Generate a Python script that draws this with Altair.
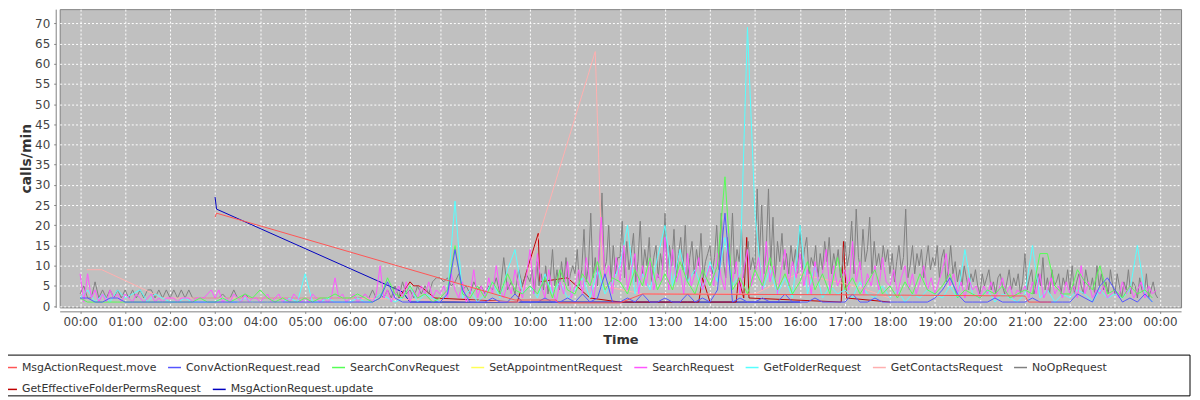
import altair as alt
import pandas as pd

SERIES = ["MsgActionRequest.move", "ConvActionRequest.read", "SearchConvRequest",
          "SetAppointmentRequest", "SearchRequest", "GetFolderRequest",
          "GetContactsRequest", "NoOpRequest", "GetEffectiveFolderPermsRequest",
          "MsgActionRequest.update"]
COLORS = ["#ff5555", "#5555ff", "#55ff55", "#ffff55", "#ff55ff", "#55ffff",
          "#ffafaf", "#808080", "#c00000", "#0000c0"]

# ---- dense series: regular sampling (minutes per step) ----
# NoOpRequest 00:00-09:55, every 5 minutes
NOOP_A_START = "00:00"
NOOP_A_STEP = 5
NOOP_A = [
    3, 5, 2, 2, 6, 2, 4, 2, 4, 2, 4, 2,
    4, 2, 4, 2, 4, 2, 4, 4, 2, 4, 2, 4,
    2, 4, 2, 4, 2, 4, 2, 2, 2, 2, 2, 2,
    2, 2, 3, 2, 2, 4, 2, 2, 3, 2, 2, 2,
    2, 2, 2, 2, 2, 2, 2, 2, 2, 2, 2, 2,
    2, 2, 2, 2, 2, 2, 2, 2, 2, 2, 2, 2,
    2, 2, 2, 2, 3, 2, 4, 2, 3, 2, 4, 2,
    5, 2, 6, 3, 4, 2, 5, 3, 5, 3, 6, 7,
    7, 6, 7, 5, 6, 8, 4, 5, 3, 6, 4, 5,
    3, 5, 4, 7, 3, 12, 4, 6, 3, 9, 5, 8,
]
# NoOpRequest 10:00-23:57, every 3 minutes
NOOP_B_START = "10:00"
NOOP_B_STEP = 3
NOOP_B = [
    6, 9, 3, 11, 5, 8, 4, 10, 3, 7, 14, 5, 9, 4, 11, 6, 12, 5, 8, 10,
    8, 14, 5, 9, 19, 6, 10, 23, 7, 12, 5, 16, 28, 9, 11, 20, 6, 15, 8, 12,
    12, 21, 7, 16, 9, 13, 18, 6, 11, 21, 8, 14, 10, 17, 6, 12, 15, 7, 13, 9,
    23, 8, 15, 10, 19, 7, 13, 17, 9, 20, 6, 12, 16, 8, 14, 10, 18, 7, 11, 13,
    15, 8, 12, 20, 9, 23, 11, 7, 17, 10, 23, 8, 14, 11, 19, 7, 13, 16, 9, 12,
    9, 29, 12, 25, 8, 14, 29, 10, 22, 7, 16, 11, 18, 9, 13, 8, 15, 10, 14, 8,
    20, 9, 14, 17, 8, 12, 10, 15, 7, 13, 9, 16, 11, 17, 8, 13, 10, 14, 7, 11,
    16, 10, 13, 21, 8, 24, 12, 9, 19, 11, 14, 22, 8, 16, 10, 13, 9, 15, 11, 14,
    8, 13, 6, 11, 15, 9, 12, 24, 7, 10, 15, 8, 13, 10, 14, 7, 11, 15, 9, 12,
    10, 15, 7, 12, 14, 6, 9, 15, 8, 11, 6, 9, 5, 10, 7, 4, 8, 6, 9, 5,
    3, 8, 5, 7, 9, 4, 6, 3, 7, 8, 5, 3, 6, 9, 4, 7, 5, 8, 3, 6,
    13, 4, 7, 9, 3, 6, 8, 5, 12, 4, 7, 3, 9, 5, 6, 8, 3, 7, 5, 9,
    4, 10, 3, 6, 8, 5, 3, 9, 6, 4, 7, 3, 10, 5, 8, 4, 6, 3, 9, 5,
    3, 8, 5, 2, 6, 4, 9, 3, 6, 5, 2, 7, 4, 3, 8, 2, 4, 6, 3, 2,
]

SEARCH_START = "00:00"
SEARCH_STEP = 5
SEARCH = [
    8, 1, 8, 2, 4, 1, 3, 1, 4, 2, 3, 1,
    3, 2, 1, 3, 2, 1, 2, 3, 1, 2, 1, 2,
    2, 2, 1, 2, 2, 2, 1, 2, 2, 2, 3, 4,
    2, 4, 1, 2, 1, 3, 2, 1, 3, 1, 2, 2,
    1, 2, 3, 1, 2, 3, 1, 2, 1, 3, 2, 1,
    2, 1, 3, 2, 1, 2, 1, 2, 7, 2, 3, 1,
    2, 3, 1, 2, 3, 2, 1, 3, 10, 2, 4, 1,
    3, 5, 2, 6, 1, 4, 2, 5, 3, 6, 2, 4,
    3, 5, 2, 8, 4, 2, 6, 1, 3, 9, 2, 5,
    2, 7, 3, 10, 4, 2, 6, 3, 9, 5, 2, 7,
    14, 3, 13, 5, 2, 9, 4, 1, 6, 3, 11, 2,
    5, 9, 3, 12, 6, 2, 8, 22, 7, 10, 3, 12,
    6, 15, 4, 9, 13, 3, 10, 5, 12, 4, 8, 6,
    17, 4, 14, 6, 9, 3, 13, 5, 8, 12, 4, 7,
    10, 5, 13, 7, 4, 18, 6, 11, 3, 9, 14, 5,
    8, 12, 4, 16, 6, 10, 3, 9, 14, 5, 11, 7,
    13, 5, 9, 3, 11, 6, 8, 14, 4, 10, 5, 7,
    9, 4, 16, 6, 11, 3, 8, 5, 10, 4, 12, 6,
    5, 9, 3, 7, 10, 4, 8, 3, 6, 10, 4, 7,
    3, 6, 9, 13, 5, 8, 3, 6, 2, 7, 4, 5,
    2, 5, 3, 6, 2, 4, 7, 3, 5, 2, 4, 3,
    5, 2, 6, 3, 8, 2, 4, 7, 3, 5, 2, 6,
    3, 5, 2, 10, 3, 6, 2, 4, 3, 5, 2, 3,
    4, 2, 6, 3, 5, 2, 4, 6, 2, 5, 3, 4,
]

FOLDER_START = "00:00"
FOLDER_STEP = 10
FOLDER = [
    2, 4, 1, 3, 1, 4,
    2, 3, 4, 1, 3, 2,
    1, 1, 2, 1, 1, 1,
    1, 2, 1, 1, 2, 1,
    1, 1, 1, 1, 2, 1,
    8, 1, 1, 2, 1, 1,
    1, 2, 1, 1, 3, 2,
    1, 2, 5, 1, 3, 2,
    1, 3, 26, 2, 4, 1,
    3, 6, 2, 9, 14, 3,
    5, 2, 8, 3, 6, 2,
    4, 7, 2, 9, 3, 6,
    10, 20, 3, 8, 4, 12,
    20, 5, 14, 6, 9, 4,
    11, 6, 17, 5, 8, 69,
    23, 4, 9, 3, 7, 2,
    20, 3, 10, 2, 5, 3,
    4, 2, 6, 3, 2, 5,
    2, 4, 1, 3, 2, 4,
    3, 2, 5, 2, 14, 3,
    2, 4, 1, 3, 2, 1,
    3, 15, 2, 4, 1, 3,
    2, 4, 3, 1, 4, 2,
    3, 2, 4, 15, 3, 1,
]

SEARCHCONV_START = "00:00"
SEARCHCONV_STEP = 10
SEARCHCONV = [
    2, 1, 1, 1, 1, 1,
    1, 1, 1, 1, 1, 1,
    1, 1, 1, 1, 2, 1,
    1, 2, 1, 2, 3, 2,
    4, 2, 1, 2, 1, 1,
    2, 1, 2, 2, 3, 2,
    2, 3, 2, 1, 2, 7,
    3, 2, 5, 2, 3, 1,
    2, 4, 15, 3, 2, 5,
    2, 6, 3, 8, 4, 3,
    5, 3, 7, 2, 9, 4,
    3, 8, 5, 11, 4, 7,
    6, 3, 9, 5, 12, 4,
    8, 4, 11, 6, 3, 9,
    5, 10, 32, 4, 7, 3,
    9, 5, 12, 4, 8, 3,
    6, 11, 4, 8, 3, 12,
    4, 7, 3, 6, 9, 3,
    5, 2, 6, 3, 8, 4,
    3, 5, 8, 2, 4, 3,
    2, 4, 3, 5, 2, 3,
    4, 3, 13, 13, 5, 3,
    3, 9, 6, 4, 10, 3,
    4, 2, 5, 3, 4, 2,
]

CONVREAD_START = "00:00"
CONVREAD_STEP = 10
CONVREAD = [
    2, 2, 1, 1, 2, 2,
    1, 1, 1, 1, 1, 1,
    1, 1, 1, 1, 1, 1,
    1, 1, 1, 1, 1, 1,
    1, 1, 1, 1, 1, 1,
    1, 1, 1, 1, 1, 1,
    1, 1, 1, 1, 2, 6,
    2, 1, 1, 1, 1, 1,
    1, 3, 14, 4, 1, 1,
    1, 2, 1, 1, 3, 1,
    1, 1, 2, 1, 1, 2,
    1, 3, 1, 2, 8, 1,
    1, 2, 1, 3, 1, 1,
    2, 1, 1, 3, 1, 2,
    1, 4, 23, 1, 2, 1,
    1, 2, 1, 1, 3, 1,
    1, 1, 2, 1, 1, 1,
    1, 3, 1, 1, 2, 1,
    1, 1, 1, 1, 1, 1,
    2, 4, 7, 3, 1, 1,
    1, 1, 2, 1, 1, 1,
    1, 2, 1, 1, 1, 1,
    1, 3, 2, 1, 5, 7,
    4, 1, 2, 1, 3, 1,
]

# ---- sparse series: explicit timestamps ----
MOVE_T = ["03:00", "03:02", "09:40", "10:35", "10:38", "12:00", "12:30", "17:00", "21:00", "21:05", "21:35"]
MOVE_V = [22, 23, 1.5, 1.5, 0.8, 0.8, 3, 2.8, 2.5, 1, 1]

UPDATE_T = ["03:00", "03:02", "07:10", "07:20", "09:00", "10:40", "12:00", "13:30", "14:50", "16:00"]
UPDATE_V = [27, 24, 3.5, 1, 1, 1, 1, 1, 1, 1]

CONTACTS_T = ["00:09", "00:29", "01:50", "03:00", "06:00", "09:45", "11:27", "11:37", "12:30",
              "15:00", "15:38", "15:58", "17:14", "17:44", "18:00"]
CONTACTS_V = [9, 9, 2, 2, 2, 1, 63, 5, 3, 3, 6.5, 8, 5, 3, 2]

PERMS_T = ["07:05", "07:20", "07:25", "07:32", "07:40", "07:53", "09:43", "10:11", "10:13", "10:50",
           "11:20", "12:00", "13:45", "13:50", "14:00", "14:35", "14:38", "14:45", "14:49", "14:52",
           "16:55", "16:58", "17:02", "18:00"]
PERMS_V = [2, 6, 5, 5, 4, 2, 1, 18, 6, 7, 2, 1, 1, 7, 1, 1, 7, 2, 17, 2, 1, 16, 2, 1]

APPT_T = ["03:30", "04:30"]
APPT_V = [1, 1]

HOUR_TICKS = list(range(25))
Y_TICKS = list(range(0, 75, 5))


def hm(s):
    h, m = s.split(":")
    return int(h) + int(m) / 60.0


rows = []


def add_dense(name, start, step, vals):
    t0 = hm(start)
    for i, v in enumerate(vals):
        rows.append({"series": name, "t": t0 + i * step / 60.0, "v": v})


def add_sparse(name, times, vals):
    for t, v in zip(times, vals):
        rows.append({"series": name, "t": hm(t), "v": v})


add_sparse("MsgActionRequest.move", MOVE_T, MOVE_V)
add_dense("ConvActionRequest.read", CONVREAD_START, CONVREAD_STEP, CONVREAD)
add_dense("SearchConvRequest", SEARCHCONV_START, SEARCHCONV_STEP, SEARCHCONV)
add_sparse("SetAppointmentRequest", APPT_T, APPT_V)
add_dense("SearchRequest", SEARCH_START, SEARCH_STEP, SEARCH)
add_dense("GetFolderRequest", FOLDER_START, FOLDER_STEP, FOLDER)
add_sparse("GetContactsRequest", CONTACTS_T, CONTACTS_V)
add_dense("NoOpRequest", NOOP_A_START, NOOP_A_STEP, NOOP_A)
add_dense("NoOpRequest", NOOP_B_START, NOOP_B_STEP, NOOP_B)
add_sparse("GetEffectiveFolderPermsRequest", PERMS_T, PERMS_V)
add_sparse("MsgActionRequest.update", UPDATE_T, UPDATE_V)

df = pd.DataFrame(rows)

xenc = alt.X("t:Q",
             scale=alt.Scale(domain=[-0.453, 24.47], nice=False, zero=False),
             axis=alt.Axis(values=HOUR_TICKS,
                           labelExpr="(datum.value % 24 < 10 ? '0' : '') + (datum.value % 24) + ':00'",
                           title="Time", offset=4, tickSize=2, labelPadding=3,
                           titlePadding=6))
yenc = alt.Y("v:Q",
             scale=alt.Scale(domain=[-0.32, 73.5], nice=False, zero=False),
             axis=alt.Axis(values=Y_TICKS, title="calls/min", offset=4, tickSize=2,
                           labelPadding=4, titlePadding=1, titleFontSize=14))

LEG = dict(title=None, orient="none", direction="horizontal", gridAlign="none",
           symbolType="stroke", symbolSize=169, symbolStrokeWidth=1.5,
           labelFontSize=11, labelColor="#333", labelOffset=4,
           columnPadding=8, padding=0, labelLimit=400)

row1 = SERIES[:8]
row2 = SERIES[8:]
cenc = alt.Color("series:N",
                 scale=alt.Scale(domain=row1, range=COLORS[:8]),
                 legend=alt.Legend(legendX=-57, legendY=353, columns=8, **LEG))
senc = alt.Stroke("series:N",
                  scale=alt.Scale(domain=row2, range=COLORS[8:]),
                  legend=alt.Legend(legendX=-57, legendY=375, columns=2, **LEG))

layers = []
for name in reversed(SERIES):
    base = alt.Chart(df).transform_filter(alt.datum.series == name).mark_line(strokeWidth=1, clip=True)
    if name in row1:
        layers.append(base.encode(x=xenc, y=yenc, color=cenc, order="t:Q"))
    else:
        layers.append(base.encode(x=xenc, y=yenc, stroke=senc, order="t:Q"))

box = alt.Chart(alt.Data(values=[{"k": 1}])).mark_rect(
    fill="transparent", stroke="#000000", strokeWidth=1
).encode(x=alt.value(-58), x2=alt.value(1137), y=alt.value(348), y2=alt.value(389))

chart = alt.layer(*layers, box).properties(
    width=1128, height=300,
    autosize=alt.AutoSizeParams(type="none"),
    padding={"left": 52, "top": 0, "right": 11, "bottom": 90},
).configure_view(
    fill="#c0c0c0", stroke="#808080", strokeWidth=1
).configure_axis(
    grid=True, gridColor="#ffffff", gridDash=[2, 2], gridWidth=1,
    domainColor="#808080", tickColor="#808080",
    labelFontSize=12, labelColor="#444444", labelFont="DejaVu Sans",
    titleFont="DejaVu Sans", titleFontSize=13, titleFontWeight="bold", titleColor="#333333"
).configure_legend(
    labelFont="DejaVu Sans"
)

chart.save("out.html", embed_options={"renderer": "svg", "actions": False})
